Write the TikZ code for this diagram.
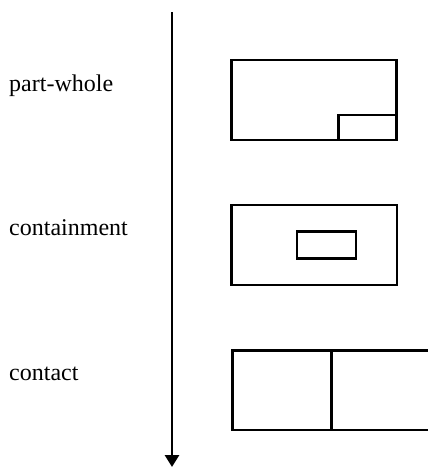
\documentclass[tikz,border=0pt]{standalone}
\usepackage{fontspec}
\setmainfont{Liberation Serif}
\usetikzlibrary{arrows.meta}
\begin{document}
\begin{tikzpicture}[x=1pt,y=-1pt,
  box/.style={draw=black,line width=2.2pt},
  label/.style={anchor=base west,inner sep=0pt,font=\fontsize{24}{28}\selectfont},
  axis/.style={draw=black,line width=2.8pt,-{Triangle[length=12pt,width=14pt]}}]
\useasboundingbox (0,0) rectangle (428,469);
% time axis
\coordinate (top) at (172,12);
\coordinate (bottom) at (172,467);
\draw[axis] (top) -- (bottom);
% labels
\node[label] (lpw) at (9,91.7) {part-whole};
\node[label] (lcn) at (9,235.7) {containment};
\node[label] (lct) at (9,380.7) {contact};
% part-whole
\draw[box] (231.5,60) rectangle (396.5,140);
\draw[box] (338.5,140) |- (396.5,115);
% containment
\draw[box] (231.5,205) rectangle (397,285);
\draw[box] (297,231.5) rectangle (356,258.5);
% contact
\draw[box] (428,350.5) -- (232.5,350.5) -- (232.5,430) -- (428,430);
\draw[box] (331.5,350.5) -- (331.5,430);
\end{tikzpicture}
\end{document}
